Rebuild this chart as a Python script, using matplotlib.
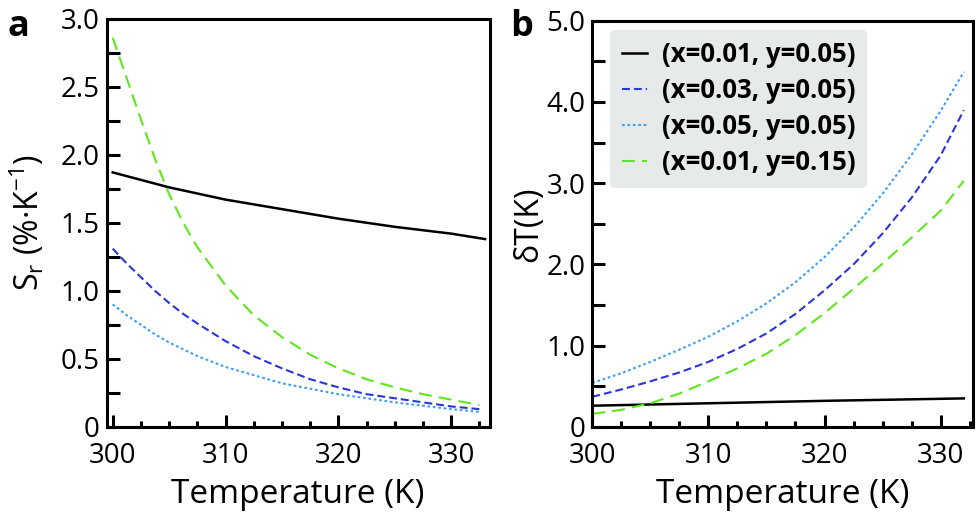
import matplotlib
matplotlib.use("Agg")
import matplotlib.pyplot as plt
from matplotlib.ticker import MultipleLocator, FixedLocator

plt.rcParams['font.family'] = ['Open Sans', 'DejaVu Sans']
plt.rcParams['mathtext.fontset'] = 'custom'
plt.rcParams['mathtext.rm'] = 'Open Sans'

# ---- panel a : relative sensitivity S_r (%/K)
temp_a = [300, 301.25, 302.5, 303.75, 305, 306.25, 307.5, 310, 312.5, 315,
          317.5, 320, 322.5, 325, 327.5, 330, 332.5]
sr_green = [2.86, 2.56, 2.26, 1.97, 1.71, 1.50, 1.32, 1.04, 0.82, 0.66,
            0.53, 0.43, 0.35, 0.29, 0.24, 0.20, 0.16]
sr_blue = [1.31, 1.20, 1.10, 1.00, 0.91, 0.83, 0.76, 0.63, 0.52, 0.43,
           0.35, 0.29, 0.24, 0.21, 0.18, 0.15, 0.13]
sr_lightblue = [0.90, 0.82, 0.75, 0.68, 0.62, 0.57, 0.52, 0.44, 0.38, 0.32,
                0.28, 0.24, 0.21, 0.18, 0.155, 0.13, 0.11]
temp_a_black = [300, 305, 310, 315, 320, 325, 330, 333]
sr_black = [1.87, 1.76, 1.67, 1.60, 1.53, 1.47, 1.42, 1.38]

# ---- panel b : temperature uncertainty dT (K)
temp_b = [300, 302.5, 305, 307.5, 310, 312.5, 315, 317.5, 320, 322.5,
          325, 327.5, 330, 332]
dt_blue = [0.37, 0.46, 0.56, 0.67, 0.80, 0.96, 1.15, 1.39, 1.68, 2.00,
           2.38, 2.82, 3.34, 3.90]
dt_lightblue = [0.54, 0.66, 0.80, 0.95, 1.11, 1.30, 1.52, 1.78, 2.09, 2.45,
                2.87, 3.35, 3.89, 4.37]
dt_green = [0.16, 0.21, 0.29, 0.41, 0.56, 0.72, 0.90, 1.13, 1.40, 1.70,
            2.01, 2.33, 2.66, 3.03]
temp_b_black = [300, 310, 320, 332]
dt_black = [0.26, 0.29, 0.32, 0.35]

labels = ["(x=0.01, y=0.05)", "(x=0.03, y=0.05)",
          "(x=0.05, y=0.05)", "(x=0.01, y=0.15)"]
xticks = [300, 310, 320, 330]
xminor = [302.5, 305, 307.5, 312.5, 315, 317.5, 322.5, 325, 327.5, 332.5]
yticks_a = [0, 0.5, 1.0, 1.5, 2.0, 2.5, 3.0]
yticklabels_a = ["0", "0.5", "1.0", "1.5", "2.0", "2.5", "3.0"]
yticks_b = [0, 1.0, 2.0, 3.0, 4.0, 5.0]
yticklabels_b = ["0", "1.0", "2.0", "3.0", "4.0", "5.0"]

c_black = "black"
c_blue = "#2a36d8"
c_light = "#3f9ff2"
c_green = "#5fe61c"
lw = 1.5

fig = plt.figure(figsize=(9.79, 5.18), dpi=100)
ax1 = fig.add_axes([0.109, 0.176, 0.391, 0.788])
ax2 = fig.add_axes([0.605, 0.176, 0.389, 0.784])

ax1.plot(temp_a_black, sr_black, color=c_black, lw=1.8)
ax1.plot(temp_a, sr_blue, color=c_blue, lw=lw, dashes=(3.8, 1.9))
ax1.plot(temp_a, sr_lightblue, color=c_light, lw=lw, dashes=(1.3, 1.3))
ax1.plot(temp_a, sr_green, color=c_green, lw=lw, dashes=(6.2, 3.4))

ax2.plot(temp_b_black, dt_black, color=c_black, lw=1.8, label=labels[0])
ax2.plot(temp_b, dt_blue, color=c_blue, lw=lw, dashes=(3.8, 1.9), label=labels[1])
ax2.plot(temp_b, dt_lightblue, color=c_light, lw=lw, dashes=(1.3, 1.3), label=labels[2])
ax2.plot(temp_b, dt_green, color=c_green, lw=lw, dashes=(6.2, 3.4), label=labels[3])

def style(ax, xmin, xmax, ymax, yt, ytl, yminor):
    ax.set_xlim(xmin, xmax)
    ax.set_ylim(0, ymax)
    ax.xaxis.set_major_locator(FixedLocator(xticks))
    ax.set_xticklabels([str(t) for t in xticks])
    ax.xaxis.set_minor_locator(FixedLocator(xminor))
    ax.set_yticks(yt)
    ax.set_yticklabels(ytl)
    ax.yaxis.set_minor_locator(MultipleLocator(yminor))
    for s in ax.spines.values():
        s.set_linewidth(2.2)
    ax.tick_params(which='major', direction='in', length=9, width=2.2,
                   labelsize=20, pad=5)
    ax.tick_params(which='minor', direction='in', length=9, width=2.2)
    ax.tick_params(axis='x', which='minor', length=4.5)
    ax.tick_params(axis='x', which='major', pad=11)
    ax.set_xlabel("Temperature (K)", fontsize=24, labelpad=6)

style(ax1, 299.47, 333.4, 3.0, yticks_a, yticklabels_a, 0.25)
style(ax2, 300, 332.8, 5.0, yticks_b, yticklabels_b, 0.5)

ax1.set_ylabel("S$_{\\mathrm{r}}$ (%·K$^{\\mathrm{-1}}$)", fontsize=23, labelpad=10)
ax2.set_ylabel("δT(K)", fontsize=23, labelpad=1)

leg = ax2.legend(loc='upper left', bbox_to_anchor=(0.047, 0.978), borderaxespad=0,
                 frameon=True, fancybox=True, facecolor='#e7eaea', edgecolor='none',
                 framealpha=1, handlelength=1.0, handletextpad=0.55, labelspacing=0.35,
                 borderpad=0.45, prop={'weight': 'bold', 'size': 18.5})

fig.text(0.008, 0.93, "a", fontsize=26, fontweight='bold')
fig.text(0.521, 0.93, "b", fontsize=26, fontweight='bold')

fig.savefig("out.png", dpi=100)
